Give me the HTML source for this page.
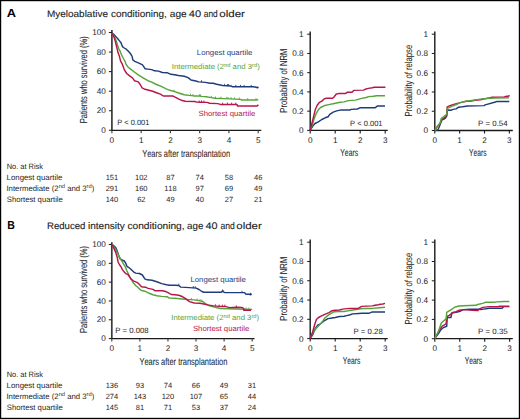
<!DOCTYPE html>
<html><head><meta charset="utf-8"><style>
html,body{margin:0;padding:0;background:#fff;}
body{width:520px;height:419px;overflow:hidden;}
svg{display:block;}
text{font-family:"Liberation Sans",sans-serif;fill:#1e1e1e;font-kerning:none;}
</style></head><body>
<svg width="520" height="419" viewBox="0 0 520 419" text-rendering="geometricPrecision">
<rect x="0" y="0" width="520" height="419" fill="#fff"/>
<text x="6.88" y="17.00" font-size="11.8" font-weight="bold" style="fill:#000" textLength="9.26" lengthAdjust="spacingAndGlyphs">A</text>
<text x="7.20" y="229.00" font-size="11.8" font-weight="bold" style="fill:#000" textLength="7.58" lengthAdjust="spacingAndGlyphs">B</text>
<text x="46.98" y="17.00" font-size="9.5" style="fill:#1e1e1e;stroke:#1e1e1e;stroke-width:0.12px" textLength="60.96" lengthAdjust="spacingAndGlyphs">Myeloablative</text>
<text x="110.98" y="17.00" font-size="9.5" style="fill:#1e1e1e;stroke:#1e1e1e;stroke-width:0.12px" textLength="55.82" lengthAdjust="spacingAndGlyphs">conditioning,</text>
<text x="169.87" y="17.00" font-size="9.5" style="fill:#1e1e1e;stroke:#1e1e1e;stroke-width:0.12px" textLength="16.88" lengthAdjust="spacingAndGlyphs">age</text>
<text x="188.74" y="17.00" font-size="9.5" style="fill:#1e1e1e;stroke:#1e1e1e;stroke-width:0.12px" textLength="12.39" lengthAdjust="spacingAndGlyphs">40</text>
<text x="203.75" y="17.00" font-size="9.5" style="fill:#1e1e1e;stroke:#1e1e1e;stroke-width:0.12px" textLength="13.89" lengthAdjust="spacingAndGlyphs">and</text>
<text x="219.22" y="17.00" font-size="9.5" style="fill:#1e1e1e;stroke:#1e1e1e;stroke-width:0.12px" textLength="25.68" lengthAdjust="spacingAndGlyphs">older</text>
<text x="47.01" y="229.00" font-size="9.5" style="fill:#1e1e1e;stroke:#1e1e1e;stroke-width:0.12px" textLength="38.41" lengthAdjust="spacingAndGlyphs">Reduced</text>
<text x="87.93" y="229.00" font-size="9.5" style="fill:#1e1e1e;stroke:#1e1e1e;stroke-width:0.12px" textLength="36.89" lengthAdjust="spacingAndGlyphs">intensity</text>
<text x="127.47" y="229.00" font-size="9.5" style="fill:#1e1e1e;stroke:#1e1e1e;stroke-width:0.12px" textLength="57.15" lengthAdjust="spacingAndGlyphs">conditioning,</text>
<text x="187.09" y="229.00" font-size="9.5" style="fill:#1e1e1e;stroke:#1e1e1e;stroke-width:0.12px" textLength="16.25" lengthAdjust="spacingAndGlyphs">age</text>
<text x="205.55" y="229.00" font-size="9.5" style="fill:#1e1e1e;stroke:#1e1e1e;stroke-width:0.12px" textLength="12.07" lengthAdjust="spacingAndGlyphs">40</text>
<text x="220.54" y="229.00" font-size="9.5" style="fill:#1e1e1e;stroke:#1e1e1e;stroke-width:0.12px" textLength="14.32" lengthAdjust="spacingAndGlyphs">and</text>
<text x="236.32" y="229.00" font-size="9.5" style="fill:#1e1e1e;stroke:#1e1e1e;stroke-width:0.12px" textLength="25.47" lengthAdjust="spacingAndGlyphs">older</text>
<line x1="111.90" y1="30.00" x2="111.90" y2="130.30" stroke="#3a3a3a" stroke-width="1.7"/>
<line x1="111.10" y1="130.30" x2="261.30" y2="130.30" stroke="#1a1a1a" stroke-width="1.3"/>
<line x1="108.90" y1="130.30" x2="111.90" y2="130.30" stroke="#1a1a1a" stroke-width="1.0"/>
<text x="105.80" y="132.90" font-size="8.2" text-anchor="end">0</text>
<line x1="108.90" y1="110.74" x2="111.90" y2="110.74" stroke="#1a1a1a" stroke-width="1.0"/>
<text x="105.80" y="113.34" font-size="8.2" text-anchor="end">20</text>
<line x1="108.90" y1="91.18" x2="111.90" y2="91.18" stroke="#1a1a1a" stroke-width="1.0"/>
<text x="105.80" y="93.78" font-size="8.2" text-anchor="end">40</text>
<line x1="108.90" y1="71.62" x2="111.90" y2="71.62" stroke="#1a1a1a" stroke-width="1.0"/>
<text x="105.80" y="74.22" font-size="8.2" text-anchor="end">60</text>
<line x1="108.90" y1="52.06" x2="111.90" y2="52.06" stroke="#1a1a1a" stroke-width="1.0"/>
<text x="105.80" y="54.66" font-size="8.2" text-anchor="end">80</text>
<line x1="108.90" y1="32.50" x2="111.90" y2="32.50" stroke="#1a1a1a" stroke-width="1.0"/>
<text x="105.80" y="35.10" font-size="8.2" text-anchor="end">100</text>
<line x1="111.90" y1="130.30" x2="111.90" y2="133.30" stroke="#3a3a3a" stroke-width="1.1"/>
<text x="111.90" y="143.20" font-size="8.2" text-anchor="middle">0</text>
<line x1="141.16" y1="130.30" x2="141.16" y2="133.30" stroke="#3a3a3a" stroke-width="1.1"/>
<text x="141.16" y="143.20" font-size="8.2" text-anchor="middle">1</text>
<line x1="170.42" y1="130.30" x2="170.42" y2="133.30" stroke="#3a3a3a" stroke-width="1.1"/>
<text x="170.42" y="143.20" font-size="8.2" text-anchor="middle">2</text>
<line x1="199.68" y1="130.30" x2="199.68" y2="133.30" stroke="#3a3a3a" stroke-width="1.1"/>
<text x="199.68" y="143.20" font-size="8.2" text-anchor="middle">3</text>
<line x1="228.94" y1="130.30" x2="228.94" y2="133.30" stroke="#3a3a3a" stroke-width="1.1"/>
<text x="228.94" y="143.20" font-size="8.2" text-anchor="middle">4</text>
<line x1="258.20" y1="130.30" x2="258.20" y2="133.30" stroke="#3a3a3a" stroke-width="1.1"/>
<text x="258.20" y="143.20" font-size="8.2" text-anchor="middle">5</text>
<text style="stroke:#1e1e1e;stroke-width:0.06px" transform="translate(86.90 122.70) rotate(-90)" x="-0.62" y="0" font-size="10.2" textLength="86.98" lengthAdjust="spacingAndGlyphs">Patients who survived (%)</text>
<text x="142.14" y="156.60" font-size="10.0" style="fill:#1e1e1e;stroke:#1e1e1e;stroke-width:0.06px" textLength="87.95" lengthAdjust="spacingAndGlyphs">Years after transplantation</text>
<text x="117.19" y="124.80" font-size="7.7" textLength="32.18" lengthAdjust="spacingAndGlyphs">P &lt; 0.001</text>
<text x="196.86" y="54.90" font-size="7.5" style="fill:#1f3c7a" textLength="55.38" lengthAdjust="spacingAndGlyphs">Longest quartile</text>
<text x="171.78" y="69.20" font-size="7.5" style="fill:#55a53a" textLength="88.00" lengthAdjust="spacingAndGlyphs">Intermediate (2<tspan font-size="5.55" dy="-2.7">nd</tspan><tspan dy="2.7"> and 3</tspan><tspan font-size="5.55" dy="-2.7">rd</tspan><tspan dy="2.7">)</tspan></text>
<text x="198.45" y="116.40" font-size="7.5" style="fill:#b8164a" textLength="56.80" lengthAdjust="spacingAndGlyphs">Shortest quartile</text>
<polyline points="111.9,32.8 114.3,34.7 115.7,36.6 117.6,38.5 119.5,40.9 121.0,42.8 122.4,46.6 124.3,48.0 126.2,49.2 128.1,50.9 130.0,53.0 132.0,56.2 132.9,60.0 134.8,61.4 137.7,62.6 140.5,63.8 142.5,64.8 144.4,67.6 145.0,68.7 147.9,69.1 151.7,69.6 154.6,70.8 158.5,71.1 162.3,72.5 167.1,72.7 170.8,74.3 174.6,74.7 178.5,75.5 184.2,76.2 188.1,77.6 191.0,80.0 195.8,81.0 198.7,81.9 205.4,82.4 210.2,83.2 213.1,83.3 216.7,84.3 222.6,85.5 231.0,86.0 232.2,86.7 253.6,86.7 256.0,87.2 257.8,87.8 258.2,86.8" fill="none" stroke="#1f3c7a" stroke-width="1.45" stroke-linejoin="round"/>
<polyline points="111.9,32.8 113.8,35.6 115.7,39.5 117.2,44.2 118.6,48.5 120.0,50.9 121.5,54.7 123.4,58.5 125.3,61.9 125.8,63.8 127.7,66.7 130.6,69.1 134.4,72.0 138.3,74.9 143.1,77.8 147.9,80.7 151.7,82.1 156.5,84.5 161.3,86.4 166.2,88.8 169.8,90.3 174.6,91.6 179.4,93.2 184.2,94.7 189.0,95.4 193.8,95.9 198.7,95.9 201.5,96.4 206.3,96.8 211.2,97.6 215.0,98.3 223.8,98.6 240.5,99.4 241.7,100.0 257.2,100.0 258.2,99.3" fill="none" stroke="#55a53a" stroke-width="1.45" stroke-linejoin="round"/>
<polyline points="111.9,32.8 113.8,36.6 115.3,41.4 116.7,47.1 118.1,52.8 119.5,56.6 120.5,60.9 121.9,63.3 124.3,69.6 126.7,73.5 129.6,75.9 132.5,77.8 134.4,80.7 138.3,81.9 140.2,84.5 142.1,87.9 145.0,89.3 148.8,90.3 152.7,91.3 156.5,92.7 160.4,94.1 163.3,96.0 170.0,96.0 172.7,95.9 175.6,97.3 179.4,99.3 181.3,100.2 185.2,101.2 194.8,101.5 196.7,102.1 200.0,102.2 207.2,102.4 209.5,103.2 217.9,103.6 220.3,104.4 237.0,104.4 237.5,106.0 257.2,106.0 258.4,104.8" fill="none" stroke="#b8164a" stroke-width="1.45" stroke-linejoin="round"/>
<line x1="201.50" y1="82.11" x2="201.50" y2="80.31" stroke="#1f3c7a" stroke-width="0.9"/>
<line x1="224.40" y1="85.61" x2="224.40" y2="83.81" stroke="#1f3c7a" stroke-width="0.9"/>
<line x1="227.40" y1="85.79" x2="227.40" y2="83.99" stroke="#1f3c7a" stroke-width="0.9"/>
<line x1="228.60" y1="85.86" x2="228.60" y2="84.06" stroke="#1f3c7a" stroke-width="0.9"/>
<line x1="235.80" y1="86.70" x2="235.80" y2="84.90" stroke="#1f3c7a" stroke-width="0.9"/>
<line x1="240.50" y1="86.70" x2="240.50" y2="84.90" stroke="#1f3c7a" stroke-width="0.9"/>
<line x1="244.10" y1="86.70" x2="244.10" y2="84.90" stroke="#1f3c7a" stroke-width="0.9"/>
<line x1="251.20" y1="86.70" x2="251.20" y2="84.90" stroke="#1f3c7a" stroke-width="0.9"/>
<line x1="174.10" y1="91.46" x2="174.10" y2="89.66" stroke="#55a53a" stroke-width="0.9"/>
<line x1="190.50" y1="95.56" x2="190.50" y2="93.76" stroke="#55a53a" stroke-width="0.9"/>
<line x1="192.90" y1="95.81" x2="192.90" y2="94.01" stroke="#55a53a" stroke-width="0.9"/>
<line x1="199.60" y1="96.06" x2="199.60" y2="94.26" stroke="#55a53a" stroke-width="0.9"/>
<line x1="200.60" y1="96.24" x2="200.60" y2="94.44" stroke="#55a53a" stroke-width="0.9"/>
<line x1="211.30" y1="97.62" x2="211.30" y2="95.82" stroke="#55a53a" stroke-width="0.9"/>
<line x1="215.50" y1="98.32" x2="215.50" y2="96.52" stroke="#55a53a" stroke-width="0.9"/>
<line x1="220.90" y1="98.50" x2="220.90" y2="96.70" stroke="#55a53a" stroke-width="0.9"/>
<line x1="226.80" y1="98.74" x2="226.80" y2="96.94" stroke="#55a53a" stroke-width="0.9"/>
<line x1="228.00" y1="98.80" x2="228.00" y2="97.00" stroke="#55a53a" stroke-width="0.9"/>
<line x1="231.00" y1="98.94" x2="231.00" y2="97.14" stroke="#55a53a" stroke-width="0.9"/>
<line x1="234.60" y1="99.12" x2="234.60" y2="97.32" stroke="#55a53a" stroke-width="0.9"/>
<line x1="239.30" y1="99.34" x2="239.30" y2="97.54" stroke="#55a53a" stroke-width="0.9"/>
<line x1="247.70" y1="100.00" x2="247.70" y2="98.20" stroke="#55a53a" stroke-width="0.9"/>
<line x1="256.00" y1="100.00" x2="256.00" y2="98.20" stroke="#55a53a" stroke-width="0.9"/>
<line x1="199.10" y1="102.17" x2="199.10" y2="100.37" stroke="#b8164a" stroke-width="0.9"/>
<line x1="201.50" y1="102.24" x2="201.50" y2="100.44" stroke="#b8164a" stroke-width="0.9"/>
<line x1="203.90" y1="102.31" x2="203.90" y2="100.51" stroke="#b8164a" stroke-width="0.9"/>
<line x1="222.60" y1="104.40" x2="222.60" y2="102.60" stroke="#b8164a" stroke-width="0.9"/>
<line x1="227.40" y1="104.40" x2="227.40" y2="102.60" stroke="#b8164a" stroke-width="0.9"/>
<line x1="231.60" y1="104.40" x2="231.60" y2="102.60" stroke="#b8164a" stroke-width="0.9"/>
<line x1="235.80" y1="104.40" x2="235.80" y2="102.60" stroke="#b8164a" stroke-width="0.9"/>
<line x1="310.20" y1="31.40" x2="310.20" y2="130.40" stroke="#1a1a1a" stroke-width="1.4"/>
<line x1="309.50" y1="130.40" x2="387.80" y2="130.40" stroke="#1a1a1a" stroke-width="1.3"/>
<line x1="307.20" y1="130.40" x2="310.20" y2="130.40" stroke="#1a1a1a" stroke-width="1.0"/>
<text x="303.60" y="133.30" font-size="8.2" text-anchor="end">0</text>
<line x1="307.20" y1="111.16" x2="310.20" y2="111.16" stroke="#1a1a1a" stroke-width="1.0"/>
<text x="303.60" y="114.06" font-size="8.2" text-anchor="end">0.2</text>
<line x1="307.20" y1="91.92" x2="310.20" y2="91.92" stroke="#1a1a1a" stroke-width="1.0"/>
<text x="303.60" y="94.82" font-size="8.2" text-anchor="end">0.4</text>
<line x1="307.20" y1="72.68" x2="310.20" y2="72.68" stroke="#1a1a1a" stroke-width="1.0"/>
<text x="303.60" y="75.58" font-size="8.2" text-anchor="end">0.6</text>
<line x1="307.20" y1="53.44" x2="310.20" y2="53.44" stroke="#1a1a1a" stroke-width="1.0"/>
<text x="303.60" y="56.34" font-size="8.2" text-anchor="end">0.8</text>
<line x1="307.20" y1="34.20" x2="310.20" y2="34.20" stroke="#1a1a1a" stroke-width="1.0"/>
<text x="303.60" y="37.10" font-size="8.2" text-anchor="end">1</text>
<line x1="310.20" y1="130.40" x2="310.20" y2="133.40" stroke="#1a1a1a" stroke-width="1.1"/>
<text x="310.20" y="143.30" font-size="8.2" text-anchor="middle">0</text>
<line x1="335.20" y1="130.40" x2="335.20" y2="133.40" stroke="#1a1a1a" stroke-width="1.1"/>
<text x="335.20" y="143.30" font-size="8.2" text-anchor="middle">1</text>
<line x1="360.20" y1="130.40" x2="360.20" y2="133.40" stroke="#1a1a1a" stroke-width="1.1"/>
<text x="360.20" y="143.30" font-size="8.2" text-anchor="middle">2</text>
<line x1="385.20" y1="130.40" x2="385.20" y2="133.40" stroke="#1a1a1a" stroke-width="1.1"/>
<text x="385.20" y="143.30" font-size="8.2" text-anchor="middle">3</text>
<text style="stroke:#1e1e1e;stroke-width:0.06px" transform="translate(287.20 112.00) rotate(-90)" x="-0.63" y="0" font-size="10.2" textLength="64.06" lengthAdjust="spacingAndGlyphs">Probability of NRM</text>
<text x="340.25" y="156.20" font-size="10.0" style="fill:#1e1e1e;stroke:#1e1e1e;stroke-width:0.06px" textLength="17.90" lengthAdjust="spacingAndGlyphs">Years</text>
<text x="350.08" y="126.20" font-size="7.7" textLength="32.49" lengthAdjust="spacingAndGlyphs">P &lt; 0.001</text>
<polyline points="310.2,130.3 312.6,126.4 314.9,123.5 318.3,121.8 321.8,119.5 325.2,117.8 328.1,116.7 329.8,114.4 333.2,112.1 336.7,110.9 341.2,109.9 350.2,109.9 351.1,109.4 357.3,109.0 359.9,107.8 375.0,107.8 377.6,105.9 385.0,105.9" fill="none" stroke="#1f3c7a" stroke-width="1.45" stroke-linejoin="round"/>
<polyline points="310.2,130.3 312.6,124.1 314.3,118.4 316.0,113.8 318.3,109.8 320.6,107.5 324.0,105.8 328.6,104.6 334.4,103.5 340.1,102.3 344.0,101.9 348.4,100.6 355.5,100.1 361.7,98.4 366.1,97.5 368.8,96.6 373.2,96.2 376.7,95.7 385.0,95.7" fill="none" stroke="#55a53a" stroke-width="1.45" stroke-linejoin="round"/>
<polyline points="310.2,130.3 312.0,123.0 313.7,116.1 315.4,109.2 317.2,105.2 319.5,102.3 321.8,101.2 324.0,98.9 326.3,98.3 332.6,98.3 333.8,97.2 336.1,94.3 338.9,93.4 345.8,93.4 347.5,92.2 352.0,92.2 353.7,90.4 363.5,90.1 365.2,89.3 368.3,88.4 372.3,87.8 374.1,87.3 384.7,87.3 385.2,86.6" fill="none" stroke="#b8164a" stroke-width="1.45" stroke-linejoin="round"/>
<line x1="434.80" y1="31.40" x2="434.80" y2="130.50" stroke="#1a1a1a" stroke-width="1.4"/>
<line x1="434.10" y1="130.50" x2="512.80" y2="130.50" stroke="#1a1a1a" stroke-width="1.3"/>
<line x1="431.80" y1="130.50" x2="434.80" y2="130.50" stroke="#1a1a1a" stroke-width="1.0"/>
<text x="428.00" y="133.40" font-size="8.2" text-anchor="end">0</text>
<line x1="431.80" y1="111.24" x2="434.80" y2="111.24" stroke="#1a1a1a" stroke-width="1.0"/>
<text x="428.00" y="114.14" font-size="8.2" text-anchor="end">0.2</text>
<line x1="431.80" y1="91.98" x2="434.80" y2="91.98" stroke="#1a1a1a" stroke-width="1.0"/>
<text x="428.00" y="94.88" font-size="8.2" text-anchor="end">0.4</text>
<line x1="431.80" y1="72.72" x2="434.80" y2="72.72" stroke="#1a1a1a" stroke-width="1.0"/>
<text x="428.00" y="75.62" font-size="8.2" text-anchor="end">0.6</text>
<line x1="431.80" y1="53.46" x2="434.80" y2="53.46" stroke="#1a1a1a" stroke-width="1.0"/>
<text x="428.00" y="56.36" font-size="8.2" text-anchor="end">0.8</text>
<line x1="431.80" y1="34.20" x2="434.80" y2="34.20" stroke="#1a1a1a" stroke-width="1.0"/>
<text x="428.00" y="37.10" font-size="8.2" text-anchor="end">1</text>
<line x1="434.80" y1="130.50" x2="434.80" y2="133.50" stroke="#1a1a1a" stroke-width="1.1"/>
<text x="434.80" y="143.30" font-size="8.2" text-anchor="middle">0</text>
<line x1="459.65" y1="130.50" x2="459.65" y2="133.50" stroke="#1a1a1a" stroke-width="1.1"/>
<text x="459.65" y="143.30" font-size="8.2" text-anchor="middle">1</text>
<line x1="484.50" y1="130.50" x2="484.50" y2="133.50" stroke="#1a1a1a" stroke-width="1.1"/>
<text x="484.50" y="143.30" font-size="8.2" text-anchor="middle">2</text>
<line x1="509.35" y1="130.50" x2="509.35" y2="133.50" stroke="#1a1a1a" stroke-width="1.1"/>
<text x="509.35" y="143.30" font-size="8.2" text-anchor="middle">3</text>
<text style="stroke:#1e1e1e;stroke-width:0.06px" transform="translate(412.00 115.80) rotate(-90)" x="-0.63" y="0" font-size="10.2" textLength="71.57" lengthAdjust="spacingAndGlyphs">Probability of relapse</text>
<text x="469.05" y="156.20" font-size="10.0" style="fill:#1e1e1e;stroke:#1e1e1e;stroke-width:0.06px" textLength="17.59" lengthAdjust="spacingAndGlyphs">Years</text>
<text x="478.05" y="126.40" font-size="7.7" textLength="29.58" lengthAdjust="spacingAndGlyphs">P = 0.54</text>
<polyline points="434.8,130.3 437.8,130.0 439.3,126.7 440.9,122.5 442.0,119.9 443.5,119.4 445.6,117.8 446.7,116.2 447.5,110.0 450.9,110.2 453.0,109.4 456.1,108.9 458.2,107.3 462.4,106.8 467.7,106.0 484.0,105.6 485.2,104.9 495.4,102.0 497.1,101.4 509.3,101.4" fill="none" stroke="#1f3c7a" stroke-width="1.45" stroke-linejoin="round"/>
<polyline points="434.8,130.3 436.7,127.3 438.3,125.2 439.9,123.6 441.4,119.9 443.5,118.3 445.6,116.8 446.7,115.2 447.2,106.8 449.8,105.7 453.0,104.7 457.2,103.4 461.4,102.4 466.6,101.3 470.0,101.2 475.1,100.3 480.2,99.8 483.5,99.0 490.3,97.7 492.0,97.3 503.8,97.3 505.5,96.5 508.9,96.0 509.5,95.3" fill="none" stroke="#b8164a" stroke-width="1.45" stroke-linejoin="round"/>
<polyline points="434.8,130.3 437.2,126.7 439.9,123.6 441.4,118.3 443.5,116.8 445.6,115.2 446.9,114.1 447.2,108.4 449.8,107.3 453.0,105.7 457.2,104.2 460.3,102.6 466.6,101.0 470.0,100.7 478.5,99.4 485.2,98.6 495.4,98.0 508.9,97.7" fill="none" stroke="#55a53a" stroke-width="1.45" stroke-linejoin="round"/>
<text x="6.69" y="168.60" font-size="7.8" textLength="36.30" lengthAdjust="spacingAndGlyphs">No. at Risk</text>
<text x="6.56" y="179.80" font-size="7.8" textLength="55.79" lengthAdjust="spacingAndGlyphs">Longest quartile</text>
<text x="6.48" y="191.00" font-size="7.8" textLength="87.80" lengthAdjust="spacingAndGlyphs">Intermediate (2<tspan font-size="5.77" dy="-2.7">nd</tspan><tspan dy="2.7"> and 3</tspan><tspan font-size="5.77" dy="-2.7">rd</tspan><tspan dy="2.7">)</tspan></text>
<text x="6.85" y="202.30" font-size="7.8" textLength="55.99" lengthAdjust="spacingAndGlyphs">Shortest quartile</text>
<text x="111.90" y="179.70" font-size="7.5" text-anchor="middle">151</text>
<text x="141.30" y="179.70" font-size="7.5" text-anchor="middle">102</text>
<text x="170.40" y="179.70" font-size="7.5" text-anchor="middle">87</text>
<text x="199.70" y="179.70" font-size="7.5" text-anchor="middle">74</text>
<text x="228.90" y="179.70" font-size="7.5" text-anchor="middle">58</text>
<text x="258.20" y="179.70" font-size="7.5" text-anchor="middle">46</text>
<text x="111.90" y="190.80" font-size="7.5" text-anchor="middle">291</text>
<text x="141.30" y="190.80" font-size="7.5" text-anchor="middle">160</text>
<text x="170.40" y="190.80" font-size="7.5" text-anchor="middle">118</text>
<text x="199.70" y="190.80" font-size="7.5" text-anchor="middle">97</text>
<text x="228.90" y="190.80" font-size="7.5" text-anchor="middle">69</text>
<text x="258.20" y="190.80" font-size="7.5" text-anchor="middle">49</text>
<text x="111.90" y="201.80" font-size="7.5" text-anchor="middle">140</text>
<text x="141.30" y="201.80" font-size="7.5" text-anchor="middle">62</text>
<text x="170.40" y="201.80" font-size="7.5" text-anchor="middle">49</text>
<text x="199.70" y="201.80" font-size="7.5" text-anchor="middle">40</text>
<text x="228.90" y="201.80" font-size="7.5" text-anchor="middle">27</text>
<text x="258.20" y="201.80" font-size="7.5" text-anchor="middle">21</text>
<line x1="111.80" y1="242.20" x2="111.80" y2="338.60" stroke="#3a3a3a" stroke-width="1.7"/>
<line x1="111.00" y1="338.60" x2="254.50" y2="338.60" stroke="#1a1a1a" stroke-width="1.3"/>
<line x1="108.80" y1="338.60" x2="111.80" y2="338.60" stroke="#1a1a1a" stroke-width="1.0"/>
<text x="105.80" y="341.20" font-size="8.2" text-anchor="end">0</text>
<line x1="108.80" y1="319.78" x2="111.80" y2="319.78" stroke="#1a1a1a" stroke-width="1.0"/>
<text x="105.80" y="322.38" font-size="8.2" text-anchor="end">20</text>
<line x1="108.80" y1="300.96" x2="111.80" y2="300.96" stroke="#1a1a1a" stroke-width="1.0"/>
<text x="105.80" y="303.56" font-size="8.2" text-anchor="end">40</text>
<line x1="108.80" y1="282.14" x2="111.80" y2="282.14" stroke="#1a1a1a" stroke-width="1.0"/>
<text x="105.80" y="284.74" font-size="8.2" text-anchor="end">60</text>
<line x1="108.80" y1="263.32" x2="111.80" y2="263.32" stroke="#1a1a1a" stroke-width="1.0"/>
<text x="105.80" y="265.92" font-size="8.2" text-anchor="end">80</text>
<line x1="108.80" y1="244.50" x2="111.80" y2="244.50" stroke="#1a1a1a" stroke-width="1.0"/>
<text x="105.80" y="247.10" font-size="8.2" text-anchor="end">100</text>
<line x1="111.80" y1="338.60" x2="111.80" y2="341.60" stroke="#3a3a3a" stroke-width="1.1"/>
<text x="111.80" y="351.40" font-size="8.2" text-anchor="middle">0</text>
<line x1="139.88" y1="338.60" x2="139.88" y2="341.60" stroke="#3a3a3a" stroke-width="1.1"/>
<text x="139.88" y="351.40" font-size="8.2" text-anchor="middle">1</text>
<line x1="167.96" y1="338.60" x2="167.96" y2="341.60" stroke="#3a3a3a" stroke-width="1.1"/>
<text x="167.96" y="351.40" font-size="8.2" text-anchor="middle">2</text>
<line x1="196.04" y1="338.60" x2="196.04" y2="341.60" stroke="#3a3a3a" stroke-width="1.1"/>
<text x="196.04" y="351.40" font-size="8.2" text-anchor="middle">3</text>
<line x1="224.12" y1="338.60" x2="224.12" y2="341.60" stroke="#3a3a3a" stroke-width="1.1"/>
<text x="224.12" y="351.40" font-size="8.2" text-anchor="middle">4</text>
<line x1="252.20" y1="338.60" x2="252.20" y2="341.60" stroke="#3a3a3a" stroke-width="1.1"/>
<text x="252.20" y="351.40" font-size="8.2" text-anchor="middle">5</text>
<text style="stroke:#1e1e1e;stroke-width:0.06px" transform="translate(86.90 332.40) rotate(-90)" x="-0.62" y="0" font-size="10.2" textLength="87.09" lengthAdjust="spacingAndGlyphs">Patients who survived (%)</text>
<text x="139.44" y="364.70" font-size="10.0" style="fill:#1e1e1e;stroke:#1e1e1e;stroke-width:0.06px" textLength="87.95" lengthAdjust="spacingAndGlyphs">Years after transplantation</text>
<text x="115.16" y="333.30" font-size="7.7" textLength="33.47" lengthAdjust="spacingAndGlyphs">P = 0.008</text>
<text x="190.46" y="282.40" font-size="7.5" style="fill:#1f3c7a" textLength="55.38" lengthAdjust="spacingAndGlyphs">Longest quartile</text>
<text x="171.39" y="320.20" font-size="7.5" style="fill:#55a53a" textLength="87.70" lengthAdjust="spacingAndGlyphs">Intermediate (2<tspan font-size="5.55" dy="-2.7">nd</tspan><tspan dy="2.7"> and 3</tspan><tspan font-size="5.55" dy="-2.7">rd</tspan><tspan dy="2.7">)</tspan></text>
<text x="192.95" y="330.90" font-size="7.5" style="fill:#b8164a" textLength="56.29" lengthAdjust="spacingAndGlyphs">Shortest quartile</text>
<polyline points="111.9,244.6 113.8,245.7 115.7,247.6 117.2,251.0 118.6,255.3 120.0,258.6 121.9,260.0 124.3,261.0 125.8,263.4 127.2,266.7 129.1,267.7 130.9,269.2 133.8,272.1 135.7,273.1 139.5,273.5 142.4,275.0 144.8,278.8 147.2,279.8 152.0,280.3 156.8,281.7 161.7,283.6 166.5,284.8 169.3,285.3 175.0,285.3 178.8,285.5 180.8,287.1 189.4,287.6 196.2,288.1 199.0,289.5 201.9,291.5 203.8,292.2 221.2,292.2 222.4,291.3 224.9,292.6 244.4,292.6 246.0,294.2 249.3,294.2 250.9,294.8 251.5,293.6" fill="none" stroke="#1f3c7a" stroke-width="1.45" stroke-linejoin="round"/>
<polyline points="111.9,244.6 113.8,246.7 115.7,249.5 117.6,253.4 119.5,257.2 121.5,260.5 123.4,263.9 125.3,266.7 126.7,270.5 128.1,273.4 129.9,277.4 131.8,280.3 133.8,283.6 135.7,285.6 137.6,287.0 140.5,289.9 142.4,290.8 145.3,291.3 149.2,293.3 153.0,294.7 156.8,295.7 161.7,296.4 167.4,296.8 169.3,298.1 175.0,298.2 179.8,298.7 184.6,299.3 189.4,299.6 194.2,299.9 199.0,300.6 202.9,301.6 205.8,304.0 209.6,305.9 215.4,307.3 220.2,308.5 228.1,308.7 236.3,309.0 244.4,309.2 252.1,309.4" fill="none" stroke="#55a53a" stroke-width="1.45" stroke-linejoin="round"/>
<polyline points="111.9,244.6 113.8,248.1 115.7,252.4 117.2,257.2 118.1,262.0 119.5,264.8 121.0,266.7 122.4,269.6 124.3,272.0 126.2,273.9 128.0,274.5 130.9,278.8 133.8,281.2 137.6,282.7 139.5,284.6 141.5,286.8 145.3,287.2 148.2,288.4 153.0,289.4 154.9,290.7 162.6,290.7 166.5,291.8 169.3,293.3 171.3,294.5 175.0,294.8 178.8,295.3 182.7,296.8 185.6,298.7 189.4,301.6 194.2,303.0 200.0,303.2 203.8,304.0 207.7,304.9 213.5,305.9 220.0,306.4 224.9,306.4 229.8,307.6 236.3,307.2 241.8,307.5 243.7,308.3 243.7,310.2 251.0,310.2" fill="none" stroke="#b8164a" stroke-width="1.45" stroke-linejoin="round"/>
<line x1="178.80" y1="285.50" x2="178.80" y2="283.70" stroke="#1f3c7a" stroke-width="0.9"/>
<line x1="193.30" y1="287.89" x2="193.30" y2="286.09" stroke="#1f3c7a" stroke-width="0.9"/>
<line x1="195.20" y1="288.03" x2="195.20" y2="286.23" stroke="#1f3c7a" stroke-width="0.9"/>
<line x1="222.40" y1="291.30" x2="222.40" y2="289.50" stroke="#1f3c7a" stroke-width="0.9"/>
<line x1="223.10" y1="291.66" x2="223.10" y2="289.86" stroke="#1f3c7a" stroke-width="0.9"/>
<line x1="242.00" y1="292.60" x2="242.00" y2="290.80" stroke="#1f3c7a" stroke-width="0.9"/>
<line x1="250.50" y1="294.65" x2="250.50" y2="292.85" stroke="#1f3c7a" stroke-width="0.9"/>
<line x1="191.30" y1="299.72" x2="191.30" y2="297.92" stroke="#55a53a" stroke-width="0.9"/>
<line x1="197.10" y1="300.32" x2="197.10" y2="298.52" stroke="#55a53a" stroke-width="0.9"/>
<line x1="200.00" y1="300.86" x2="200.00" y2="299.06" stroke="#55a53a" stroke-width="0.9"/>
<line x1="201.90" y1="301.34" x2="201.90" y2="299.54" stroke="#55a53a" stroke-width="0.9"/>
<line x1="246.00" y1="309.24" x2="246.00" y2="307.44" stroke="#55a53a" stroke-width="0.9"/>
<line x1="248.90" y1="309.32" x2="248.90" y2="307.52" stroke="#55a53a" stroke-width="0.9"/>
<line x1="215.40" y1="306.05" x2="215.40" y2="304.25" stroke="#b8164a" stroke-width="0.9"/>
<line x1="219.20" y1="306.34" x2="219.20" y2="304.54" stroke="#b8164a" stroke-width="0.9"/>
<line x1="222.40" y1="306.40" x2="222.40" y2="304.60" stroke="#b8164a" stroke-width="0.9"/>
<line x1="224.90" y1="306.40" x2="224.90" y2="304.60" stroke="#b8164a" stroke-width="0.9"/>
<line x1="236.30" y1="307.20" x2="236.30" y2="305.40" stroke="#b8164a" stroke-width="0.9"/>
<line x1="310.20" y1="239.60" x2="310.20" y2="338.60" stroke="#1a1a1a" stroke-width="1.4"/>
<line x1="309.50" y1="338.60" x2="387.80" y2="338.60" stroke="#1a1a1a" stroke-width="1.3"/>
<line x1="307.20" y1="338.60" x2="310.20" y2="338.60" stroke="#1a1a1a" stroke-width="1.0"/>
<text x="303.60" y="341.50" font-size="8.2" text-anchor="end">0</text>
<line x1="307.20" y1="319.32" x2="310.20" y2="319.32" stroke="#1a1a1a" stroke-width="1.0"/>
<text x="303.60" y="322.22" font-size="8.2" text-anchor="end">0.2</text>
<line x1="307.20" y1="300.04" x2="310.20" y2="300.04" stroke="#1a1a1a" stroke-width="1.0"/>
<text x="303.60" y="302.94" font-size="8.2" text-anchor="end">0.4</text>
<line x1="307.20" y1="280.76" x2="310.20" y2="280.76" stroke="#1a1a1a" stroke-width="1.0"/>
<text x="303.60" y="283.66" font-size="8.2" text-anchor="end">0.6</text>
<line x1="307.20" y1="261.48" x2="310.20" y2="261.48" stroke="#1a1a1a" stroke-width="1.0"/>
<text x="303.60" y="264.38" font-size="8.2" text-anchor="end">0.8</text>
<line x1="307.20" y1="242.20" x2="310.20" y2="242.20" stroke="#1a1a1a" stroke-width="1.0"/>
<text x="303.60" y="245.10" font-size="8.2" text-anchor="end">1</text>
<line x1="310.20" y1="338.60" x2="310.20" y2="341.60" stroke="#1a1a1a" stroke-width="1.1"/>
<text x="310.20" y="351.30" font-size="8.2" text-anchor="middle">0</text>
<line x1="335.20" y1="338.60" x2="335.20" y2="341.60" stroke="#1a1a1a" stroke-width="1.1"/>
<text x="335.20" y="351.30" font-size="8.2" text-anchor="middle">1</text>
<line x1="360.20" y1="338.60" x2="360.20" y2="341.60" stroke="#1a1a1a" stroke-width="1.1"/>
<text x="360.20" y="351.30" font-size="8.2" text-anchor="middle">2</text>
<line x1="385.20" y1="338.60" x2="385.20" y2="341.60" stroke="#1a1a1a" stroke-width="1.1"/>
<text x="385.20" y="351.30" font-size="8.2" text-anchor="middle">3</text>
<text style="stroke:#1e1e1e;stroke-width:0.06px" transform="translate(287.20 320.10) rotate(-90)" x="-0.63" y="0" font-size="10.2" textLength="64.06" lengthAdjust="spacingAndGlyphs">Probability of NRM</text>
<text x="342.85" y="364.00" font-size="10.0" style="fill:#1e1e1e;stroke:#1e1e1e;stroke-width:0.06px" textLength="17.59" lengthAdjust="spacingAndGlyphs">Years</text>
<text x="353.46" y="334.00" font-size="7.7" textLength="29.28" lengthAdjust="spacingAndGlyphs">P = 0.28</text>
<polyline points="310.2,338.4 312.7,334.8 315.3,328.5 318.0,324.9 320.6,323.8 323.7,321.2 328.0,318.6 332.1,318.0 335.3,317.5 339.5,316.5 344.0,316.2 346.7,315.6 350.2,314.8 352.8,313.9 359.0,313.5 361.7,313.3 368.8,313.3 372.3,311.9 385.0,311.9" fill="none" stroke="#1f3c7a" stroke-width="1.45" stroke-linejoin="round"/>
<polyline points="310.2,338.4 313.2,332.2 316.4,328.0 319.5,324.9 322.7,321.2 324.8,318.0 328.0,315.4 331.1,313.3 334.2,311.7 339.5,311.5 344.0,311.5 349.3,310.6 354.6,309.7 360.8,308.7 367.0,308.4 372.3,308.4 379.4,307.8 385.0,307.3" fill="none" stroke="#55a53a" stroke-width="1.45" stroke-linejoin="round"/>
<polyline points="310.2,338.4 312.7,331.7 314.8,324.3 316.4,319.6 318.5,317.5 321.6,315.9 324.8,314.4 329.0,312.6 332.1,310.7 335.3,310.2 339.5,310.0 342.6,309.1 349.3,308.4 358.2,308.4 361.7,306.4 372.3,305.9 375.0,305.3 378.5,304.8 380.3,304.2 382.9,304.0 385.0,303.4" fill="none" stroke="#b8164a" stroke-width="1.45" stroke-linejoin="round"/>
<line x1="434.80" y1="239.60" x2="434.80" y2="338.70" stroke="#1a1a1a" stroke-width="1.4"/>
<line x1="434.10" y1="338.70" x2="512.80" y2="338.70" stroke="#1a1a1a" stroke-width="1.3"/>
<line x1="431.80" y1="338.70" x2="434.80" y2="338.70" stroke="#1a1a1a" stroke-width="1.0"/>
<text x="428.00" y="341.60" font-size="8.2" text-anchor="end">0</text>
<line x1="431.80" y1="319.40" x2="434.80" y2="319.40" stroke="#1a1a1a" stroke-width="1.0"/>
<text x="428.00" y="322.30" font-size="8.2" text-anchor="end">0.2</text>
<line x1="431.80" y1="300.10" x2="434.80" y2="300.10" stroke="#1a1a1a" stroke-width="1.0"/>
<text x="428.00" y="303.00" font-size="8.2" text-anchor="end">0.4</text>
<line x1="431.80" y1="280.80" x2="434.80" y2="280.80" stroke="#1a1a1a" stroke-width="1.0"/>
<text x="428.00" y="283.70" font-size="8.2" text-anchor="end">0.6</text>
<line x1="431.80" y1="261.50" x2="434.80" y2="261.50" stroke="#1a1a1a" stroke-width="1.0"/>
<text x="428.00" y="264.40" font-size="8.2" text-anchor="end">0.8</text>
<line x1="431.80" y1="242.20" x2="434.80" y2="242.20" stroke="#1a1a1a" stroke-width="1.0"/>
<text x="428.00" y="245.10" font-size="8.2" text-anchor="end">1</text>
<line x1="434.80" y1="338.70" x2="434.80" y2="341.70" stroke="#1a1a1a" stroke-width="1.1"/>
<text x="434.80" y="351.30" font-size="8.2" text-anchor="middle">0</text>
<line x1="459.75" y1="338.70" x2="459.75" y2="341.70" stroke="#1a1a1a" stroke-width="1.1"/>
<text x="459.75" y="351.30" font-size="8.2" text-anchor="middle">1</text>
<line x1="484.70" y1="338.70" x2="484.70" y2="341.70" stroke="#1a1a1a" stroke-width="1.1"/>
<text x="484.70" y="351.30" font-size="8.2" text-anchor="middle">2</text>
<line x1="509.65" y1="338.70" x2="509.65" y2="341.70" stroke="#1a1a1a" stroke-width="1.1"/>
<text x="509.65" y="351.30" font-size="8.2" text-anchor="middle">3</text>
<text style="stroke:#1e1e1e;stroke-width:0.06px" transform="translate(412.00 323.80) rotate(-90)" x="-0.63" y="0" font-size="10.2" textLength="71.57" lengthAdjust="spacingAndGlyphs">Probability of relapse</text>
<text x="464.65" y="364.10" font-size="10.0" style="fill:#1e1e1e;stroke:#1e1e1e;stroke-width:0.06px" textLength="17.59" lengthAdjust="spacingAndGlyphs">Years</text>
<text x="478.05" y="334.30" font-size="7.7" textLength="29.68" lengthAdjust="spacingAndGlyphs">P = 0.35</text>
<polyline points="434.8,338.4 438.3,333.8 440.9,329.6 443.5,327.5 446.7,326.4 447.2,317.5 450.9,317.5 452.0,312.8 456.1,312.3 460.3,311.2 463.0,309.6 470.0,309.3 479.3,309.1 481.0,309.5 483.5,309.1 487.8,308.5 489.5,308.3 502.1,308.3 503.8,306.6 509.3,306.6" fill="none" stroke="#1f3c7a" stroke-width="1.45" stroke-linejoin="round"/>
<polyline points="434.8,338.4 437.8,333.3 440.4,328.5 442.5,325.9 444.6,324.9 446.2,323.3 446.7,316.5 449.3,315.4 452.5,312.8 456.1,311.7 459.3,310.2 463.5,309.6 472.0,310.4 477.6,310.6 479.3,309.1 482.7,307.4 489.5,306.6 497.9,306.6 499.6,306.2 509.3,306.2" fill="none" stroke="#b8164a" stroke-width="1.45" stroke-linejoin="round"/>
<polyline points="434.8,338.4 438.3,331.7 441.4,322.8 444.6,320.1 446.2,318.6 446.7,312.3 450.4,310.2 455.1,307.0 459.3,306.0 463.5,305.7 475.9,305.3 477.6,304.5 482.7,303.4 485.2,302.3 493.7,302.3 497.1,301.9 503.8,301.5 509.3,301.5" fill="none" stroke="#55a53a" stroke-width="1.45" stroke-linejoin="round"/>
<text x="6.69" y="376.70" font-size="7.8" textLength="36.30" lengthAdjust="spacingAndGlyphs">No. at Risk</text>
<text x="6.56" y="387.90" font-size="7.8" textLength="55.79" lengthAdjust="spacingAndGlyphs">Longest quartile</text>
<text x="6.48" y="399.10" font-size="7.8" textLength="87.80" lengthAdjust="spacingAndGlyphs">Intermediate (2<tspan font-size="5.77" dy="-2.7">nd</tspan><tspan dy="2.7"> and 3</tspan><tspan font-size="5.77" dy="-2.7">rd</tspan><tspan dy="2.7">)</tspan></text>
<text x="6.85" y="410.40" font-size="7.8" textLength="55.99" lengthAdjust="spacingAndGlyphs">Shortest quartile</text>
<text x="111.90" y="387.80" font-size="7.5" text-anchor="middle">136</text>
<text x="139.90" y="387.80" font-size="7.5" text-anchor="middle">93</text>
<text x="167.90" y="387.80" font-size="7.5" text-anchor="middle">74</text>
<text x="195.90" y="387.80" font-size="7.5" text-anchor="middle">66</text>
<text x="223.90" y="387.80" font-size="7.5" text-anchor="middle">49</text>
<text x="251.90" y="387.80" font-size="7.5" text-anchor="middle">31</text>
<text x="111.90" y="398.90" font-size="7.5" text-anchor="middle">274</text>
<text x="139.90" y="398.90" font-size="7.5" text-anchor="middle">143</text>
<text x="167.90" y="398.90" font-size="7.5" text-anchor="middle">120</text>
<text x="195.90" y="398.90" font-size="7.5" text-anchor="middle">107</text>
<text x="223.90" y="398.90" font-size="7.5" text-anchor="middle">65</text>
<text x="251.90" y="398.90" font-size="7.5" text-anchor="middle">44</text>
<text x="111.90" y="409.90" font-size="7.5" text-anchor="middle">145</text>
<text x="139.90" y="409.90" font-size="7.5" text-anchor="middle">81</text>
<text x="167.90" y="409.90" font-size="7.5" text-anchor="middle">71</text>
<text x="195.90" y="409.90" font-size="7.5" text-anchor="middle">53</text>
<text x="223.90" y="409.90" font-size="7.5" text-anchor="middle">37</text>
<text x="251.90" y="409.90" font-size="7.5" text-anchor="middle">24</text>
<rect x="0.6" y="0.6" width="518.8" height="417.8" fill="none" stroke="#000" stroke-width="1.2"/>
</svg>
</body></html>
